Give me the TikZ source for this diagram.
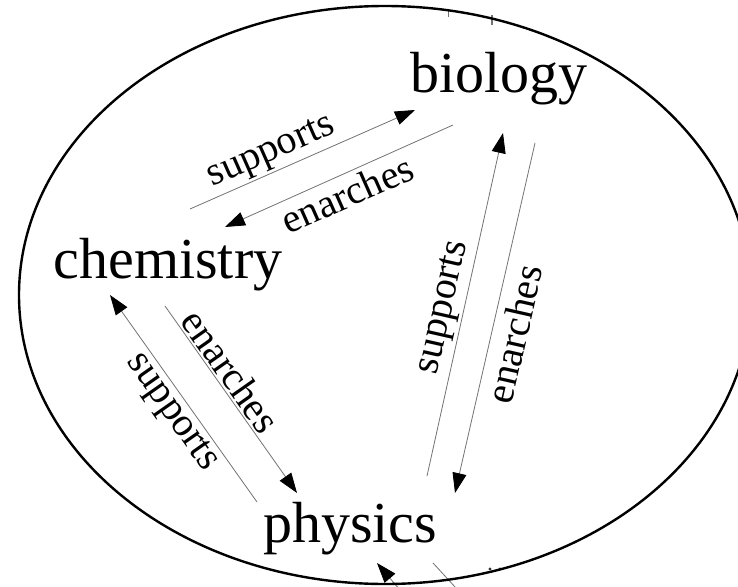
\documentclass[tikz,border=0pt]{standalone}
\usepackage{fontspec}
\setmainfont{Liberation Serif}
\usetikzlibrary{arrows.meta}
\tikzset{
  subject/.style={anchor=base,inner sep=0pt,font=\fontsize{58}{60}\selectfont},
  lbl/.style={anchor=center,inner sep=0pt,font=\fontsize{40}{42}\selectfont},
  rel/.style={draw=black!55,line width=0.8pt,-{Triangle[length=20pt,width=14pt,color=black]}},
  frag/.style={draw=black!55,line width=0.8pt},
  rim/.style={draw=black,line width=2.4pt}
}
\begin{document}
\begin{tikzpicture}[x=1pt,y=-1pt]
\useasboundingbox (0,0) rectangle (738,586);
\fill[white] (0,0) rectangle (738,586);

% subjects
\node[subject] (bio) at (499,92) {biology};
\node[subject] (chem) at (168,278) {chemistry};
\node[subject] (phys) at (350,542) {physics};

% connector ends
\coordinate (s1a) at (190,209); \coordinate (s1b) at (415,110);
\coordinate (e1a) at (453,125); \coordinate (e1b) at (225,227);
\coordinate (s2a) at (427,476); \coordinate (s2b) at (503,133);
\coordinate (e2a) at (535,143); \coordinate (e2b) at (455,493);
\coordinate (s3a) at (257,502); \coordinate (s3b) at (110,295);
\coordinate (e3a) at (165,306); \coordinate (e3b) at (297,493);

\draw[rel] (s1a) -- (s1b);
\draw[rel] (e1a) -- (e1b);
\draw[rel] (s2a) -- (s2b);
\draw[rel] (e2a) -- (e2b);
\draw[rel] (s3a) -- (s3b);
\draw[rel] (e3a) -- (e3b);

% labels
\node[lbl,rotate=23.9] (l1) at (272,153) {supports};
\node[lbl,rotate=23.9] (l2) at (347,194) {enarches};
\node[lbl,rotate=77.3] (l3) at (445,308) {supports};
\node[lbl,rotate=77.3] (l4) at (514,334) {enarches};
\node[lbl,rotate=-55] (l5) at (171,413) {supports};
\node[lbl,rotate=-55] (l6) at (231,371) {enarches};

% cropped fragments at the rim
\coordinate (f1a) at (400,590); \coordinate (f1b) at (377,563);
\draw[rel] (f1a) -- (f1b);
\coordinate (f2a) at (433,563); \coordinate (f2b) at (456,588);
\draw[frag] (f2a) -- (f2b);
\fill[black!80] (490,569) circle (1.6);
\fill[black!80] (500,569) circle (1.6);
\coordinate (f3a) at (448,9); \coordinate (f3b) at (448,17);
\draw[frag] (f3a) -- (f3b);
\coordinate (f4a) at (492,15); \coordinate (f4b) at (492,25);
\draw[frag,line width=1.4pt] (f4a) -- (f4b);

% enclosing ellipse
\draw[rim] (385,295) ellipse [x radius=366, y radius=289];
\end{tikzpicture}
\end{document}
